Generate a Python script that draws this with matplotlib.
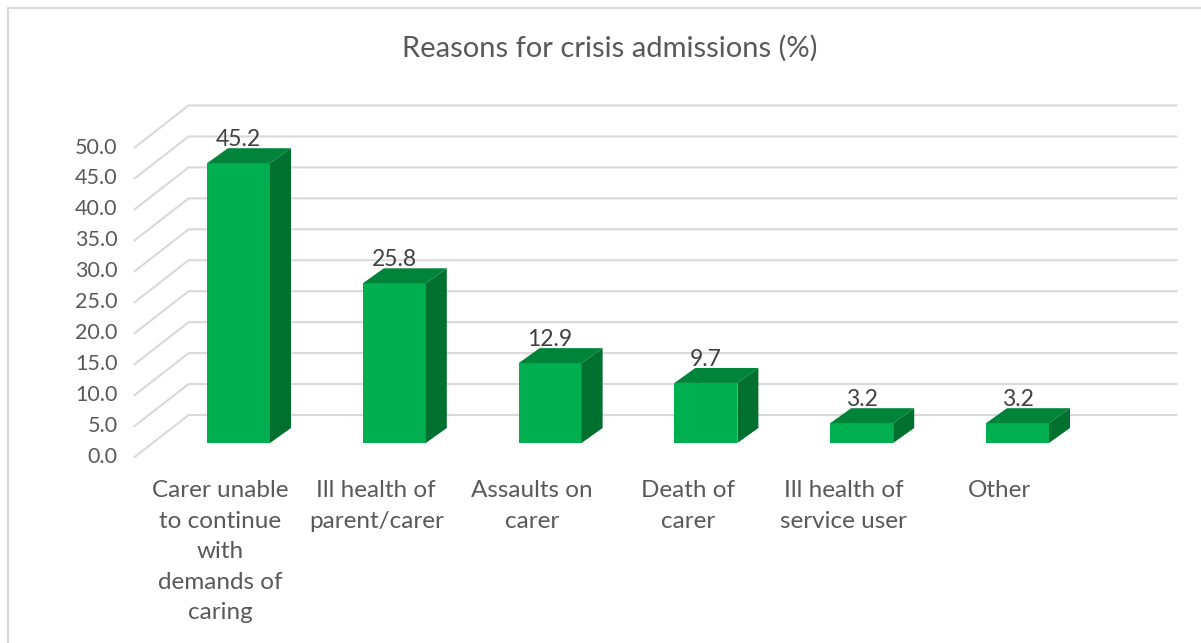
import matplotlib.pyplot as plt
from matplotlib.patches import Polygon, Rectangle

plt.rcParams['font.family'] = ['Lato', 'DejaVu Sans']

# Data
categories = ['Carer unable\nto continue\nwith\ndemands of\ncaring',
              'Ill health of\nparent/carer',
              'Assaults on\ncarer',
              'Death of\ncarer',
              'Ill health of\nservice user',
              'Other']
values = [45.2, 25.8, 12.9, 9.7, 3.2, 3.2]
yticks = [0, 5, 10, 15, 20, 25, 30, 35, 40, 45, 50]

# Colours
front_col = '#00B050'
top_col = '#00843A'
side_col = '#00702F'
grid_col = '#D9D9D9'
text_col = '#595959'
label_col = '#404040'

# Layout (pixel scale of the fake 3D frame)
W, H = 1201, 643
px_x = 155.8      # pixels per category
px_y = 6.19       # pixels per unit
x0_px, y0_px = 238.5, 443   # first bar front centre / zero line

def dx(p):
    return p / px_x

def dy(p):
    return p / px_y

fig = plt.figure(figsize=(W / 100, H / 100), dpi=100)
ax = fig.add_axes([0, 0, 1, 1])
ax.set_xlim(-x0_px / px_x, (W - x0_px) / px_x)
ax.set_ylim(-(H - y0_px) / px_y, y0_px / px_y)
ax.axis('off')

# border (only top and left edge visible)
fig.patches.append(Rectangle((8 / W, -0.1), 1.2, 1.1 - 8 / H, transform=fig.transFigure,
                             fill=False, edgecolor=grid_col, lw=1.5))

# depth offsets
wall_dx, wall_dy = dx(36), dy(28)       # bar front -> back wall
front_dx, front_dy = dx(-18), dy(-14)   # bar front -> front of floor
bar_dx, bar_dy = dx(21), dy(15)         # bar depth
half_w = dx(63) / 2

wall_left = -0.5 - dx(8) + wall_dx
wall_right = len(values) - 1 + 0.5 + dx(45) + wall_dx
floor_left = wall_left - (wall_dx - front_dx)

# gridlines on back wall and side wall
for t in yticks:
    ax.plot([floor_left, wall_left, wall_right],
            [t + front_dy, t + wall_dy, t + wall_dy],
            color=grid_col, lw=1.5, zorder=1)
    ax.text(floor_left - dx(17), t + front_dy, f'{t:.1f}', ha='right', va='center',
            fontsize=15.5, color=text_col)

# bars
for i, v in enumerate(values):
    ax.bar(i, v, width=2 * half_w, color=front_col, zorder=3)
    top = Polygon([(i - half_w, v), (i + half_w, v),
                   (i + half_w + bar_dx, v + bar_dy), (i - half_w + bar_dx, v + bar_dy)],
                  closed=True, facecolor=top_col, edgecolor='none', zorder=3)
    side = Polygon([(i + half_w, 0), (i + half_w + bar_dx, bar_dy),
                    (i + half_w + bar_dx, v + bar_dy), (i + half_w, v)],
                   closed=True, facecolor=side_col, edgecolor='none', zorder=3)
    ax.add_patch(top)
    ax.add_patch(side)
    ax.text(i, v + bar_dy - dy(2), f'{v:.1f}', ha='center', va='bottom',
            fontsize=16.5, color=label_col, zorder=4)

# category labels
for i, c in enumerate(categories):
    ax.text(i + front_dx, front_dy - dy(23), c, ha='center', va='top',
            fontsize=17.5, color=text_col, linespacing=1.56)

fig.text(0.508, 1 - 48 / H, 'Reasons for crisis admissions (%)', ha='center', va='center',
         fontsize=21, color=text_col)

fig.savefig('out.png', dpi=100)
